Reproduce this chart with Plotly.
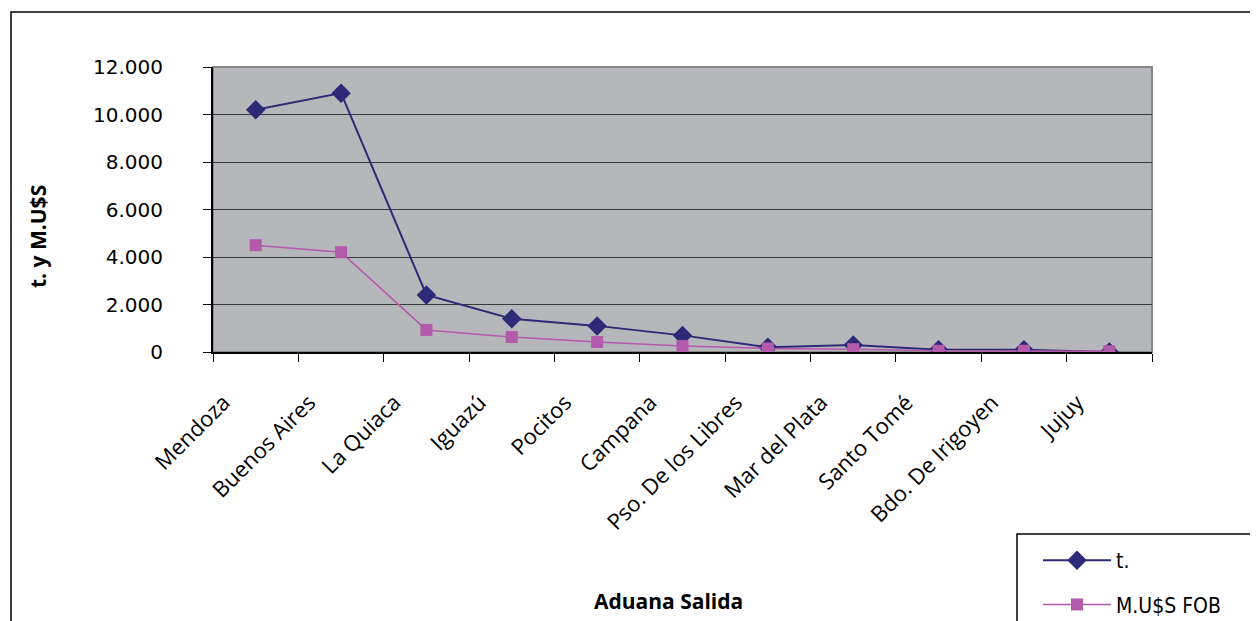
import plotly.graph_objects as go

categories = ["Mendoza", "Buenos Aires", "La Quiaca", "Iguazú", "Pocitos", "Campana",
              "Pso. De los Libres", "Mar del Plata", "Santo Tomé", "Bdo. De Irigoyen", "Jujuy"]
toneladas = [10200, 10900, 2400, 1400, 1100, 700, 200, 300, 100, 100, 0]
musd_fob = [4500, 4200, 930, 630, 420, 250, 150, 120, 50, 50, 30]

OFF = 8  # page body margin
W, H = 1258 - OFF, 621 - OFF
L, R, T, B = 213 - OFF, 1152 - OFF, 67 - OFF, 352 - OFF
pw, ph = R - L, B - T

def px(x):
    return (x - OFF - L) / pw

def py(y):
    return (B - (y - OFF)) / ph

fig = go.Figure()
fig.add_trace(go.Scatter(
    x=categories, y=toneladas, name="t.", mode="lines+markers", legendgroup="a",
    line=dict(color="#2f2a78", width=2),
    marker=dict(symbol="diamond", size=15, color="#2f2a78"),
))
fig.add_trace(go.Scatter(
    x=categories, y=musd_fob, name="M.U$S FOB", mode="lines+markers", legendgroup="b",
    line=dict(color="#b45aaa", width=1.5),
    marker=dict(symbol="square", size=12, color="#b45aaa"),
))

fig.update_layout(
    width=W, height=H,
    margin=dict(l=L, r=W - R, t=T, b=H - B, autoexpand=False),
    paper_bgcolor="white",
    plot_bgcolor="#b6b7bb",
    separators=",.",
    font=dict(family="Open Sans", size=17, color="black"),
    showlegend=True,
    legend=dict(x=px(1038), y=py(540), xanchor="left", yanchor="top",
                bgcolor="rgba(0,0,0,0)", borderwidth=0, itemwidth=68,
                font=dict(family="DejaVu Sans Condensed, Noto Sans", size=21),
                tracegroupgap=14),
    xaxis=dict(
        type="category", range=[-0.5, 10.5], tickangle=-45,
        tickson="boundaries", ticks="outside", ticklen=8, tickcolor="black",
        showgrid=False, showline=True, linecolor="black", linewidth=2,
        tickfont=dict(family="Open Sans", size=22),
        ticklabelstandoff=27, ticklabelshift=-32,
    ),
    yaxis=dict(
        range=[0, 12000], dtick=2000, tickformat=",d",
        ticks="outside", ticklen=8, tickcolor="black",
        showgrid=True, gridcolor="#3a3a3a", gridwidth=1,
        showline=True, linecolor="black", linewidth=2,
        tickfont=dict(family="DejaVu Sans", size=20),
        ticklabelstandoff=36,
        zeroline=False,
    ),
    shapes=[
        dict(type="rect", xref="paper", yref="paper", x0=px(11), x1=px(1262),
             y0=py(626), y1=py(12), line=dict(color="black", width=1.5)),
        dict(type="rect", xref="paper", yref="paper", x0=0, x1=1, y0=0, y1=1,
             line=dict(color="#888888", width=2), layer="below"),
        dict(type="rect", xref="paper", yref="paper", x0=px(1017), x1=px(1262),
             y0=py(626), y1=py(534), line=dict(color="black", width=1.5)),
    ],
    annotations=[
        dict(text="<b>Aduana Salida</b>", xref="paper", yref="paper",
             x=px(668), y=py(601), showarrow=False, xanchor="center", yanchor="middle",
             font=dict(family="Open Sans", size=21)),
        dict(text="<b>t. y M.U$S</b>", xref="paper", yref="paper", textangle=-90,
             x=px(38), y=py(237), showarrow=False, xanchor="center", yanchor="middle",
             font=dict(family="Open Sans", size=21)),
    ],
)

fig.write_html("out.html")
